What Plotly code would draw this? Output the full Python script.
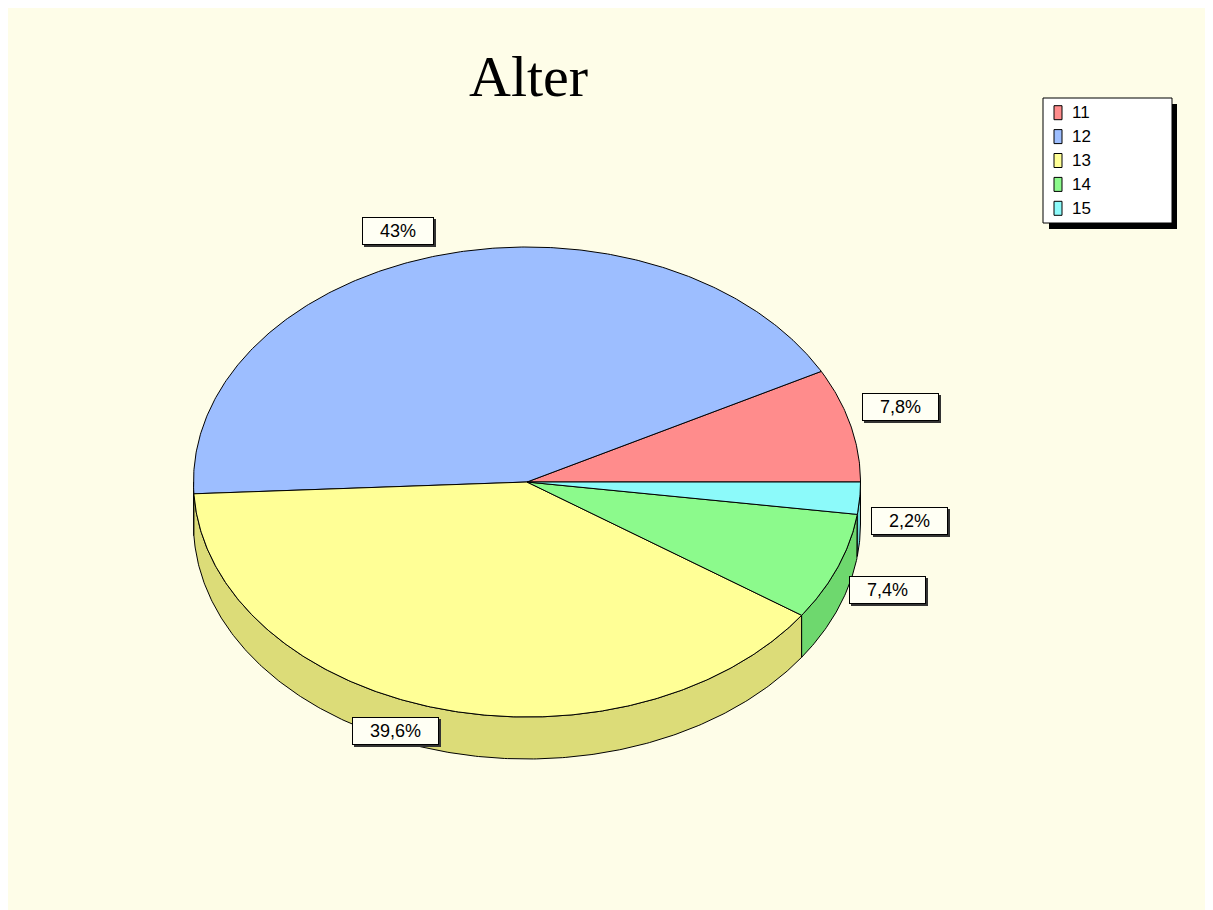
import math
import plotly.graph_objects as go

# ---- data ----
categories = ["11", "12", "13", "14", "15"]
shares = [7.8, 43.0, 39.6, 7.4, 2.2]
top_colors = ["#FF8C8C", "#9DBEFF", "#FFFF96", "#8CFA8C", "#8CFAFA"]
side_colors = ["#DC7070", "#829ED8", "#DCDC78", "#6ED86E", "#6ED8D8"]
title_text = "Alter"

# ---- geometry / style constants (in page pixels) ----
W, H = 1213, 910
OFF = 8  # page body margin
CX, CY = 527, 482
RX, RY = 333.5, 235
DEPTH = 42
BG = "#FEFDE8"
LABEL_FONT = "Liberation Sans, Arial, sans-serif"


def pt(t, dy=0.0):
    r = math.radians(t)
    return CX + RX * math.cos(r), CY - RY * math.sin(r) + dy


def arc(a, b, dy=0.0):
    n = max(2, int(math.ceil(abs(b - a) / 0.5)) + 1)
    return [pt(a + (b - a) * i / (n - 1), dy) for i in range(n)]


def fmt(v):
    s = f"{v:g}".replace(".", ",")
    return s + "%"


total = sum(shares)
bounds = []
start = 0.0
for v in shares:
    span = v / total * 360.0
    bounds.append((start, start + span))
    start += span

fig = go.Figure()

# side walls (front half only)
for cat, (a, b), col in zip(categories, bounds, side_colors):
    s, e = max(a, 180.0), min(b, 360.0)
    if s < e:
        top = arc(s, e)
        bot = arc(e, s, DEPTH)
        pts = top + bot + [top[0]]
        fig.add_trace(go.Scatter(
            x=[p[0] for p in pts], y=[p[1] for p in pts],
            mode="lines", fill="toself", fillcolor=col,
            line=dict(color="black", width=1),
            hoverinfo="skip", showlegend=False))

# top faces
for cat, v, (a, b), col in zip(categories, shares, bounds, top_colors):
    pts = [(CX, CY)] + arc(a, b) + [(CX, CY)]
    fig.add_trace(go.Scatter(
        x=[p[0] for p in pts], y=[p[1] for p in pts],
        mode="lines", fill="toself", fillcolor=col,
        line=dict(color="black", width=1),
        name=cat, text=fmt(v), hoverinfo="name+text", showlegend=False))

annotations = []
PAD = "\u2002\u00a0"
# data labels
for v, (a, b) in zip(shares, bounds):
    m = (a + b) / 2
    px, py = pt(m)
    c, s = math.cos(math.radians(m)), math.sin(math.radians(m))
    lx = px + (50 if c >= 0 else -40)
    ly = py + (-(16 + 9 * s) if s > 0 else 23)
    txt = PAD + fmt(v) + PAD
    annotations.append(dict(
        x=lx, y=ly, xref="x", yref="y", text=txt, showarrow=False,
        font=dict(family=LABEL_FONT, size=18, color="#333333"),
        bgcolor="#333333", bordercolor="#333333", borderwidth=1, borderpad=3,
        xshift=2, yshift=-2))
    annotations.append(dict(
        x=lx, y=ly, xref="x", yref="y", text=txt, showarrow=False,
        font=dict(family=LABEL_FONT, size=18, color="black"),
        bgcolor="#FFFFF4", bordercolor="black", borderwidth=1, borderpad=3))

# title
annotations.append(dict(
    x=528, y=76, xref="x", yref="y", text=title_text, showarrow=False,
    font=dict(family="Liberation Serif, Times New Roman, serif", size=58, color="black")))

shapes = []
# legend (manual, Excel style with shadow)
LX0, LY0, LX1, LY1 = 1043, 98, 1172, 223
shapes.append(dict(type="rect", xref="x", yref="y", x0=LX0 + 6, y0=LY0 + 6,
                   x1=LX1 + 5, y1=LY1 + 6, fillcolor="black", line=dict(width=0)))
shapes.append(dict(type="rect", xref="x", yref="y", x0=LX0, y0=LY0, x1=LX1, y1=LY1,
                   fillcolor="white", line=dict(color="black", width=1)))
for i, (cat, col) in enumerate(zip(categories, top_colors)):
    yc = 112.7 + i * 23.9
    shapes.append(dict(type="rect", xref="x", yref="y", x0=1054, x1=1062,
                       y0=yc - 7, y1=yc + 7, fillcolor=col,
                       line=dict(color="black", width=1)))
    annotations.append(dict(
        x=1070, y=yc, xref="x", yref="y", text=cat, showarrow=False,
        xanchor="left", yanchor="middle",
        font=dict(family=LABEL_FONT, size=17, color="black")))

fig.update_layout(
    width=W, height=H,
    margin=dict(l=0, r=0, t=0, b=0),
    paper_bgcolor=BG, plot_bgcolor="rgba(0,0,0,0)",
    xaxis=dict(range=[OFF, OFF + W], visible=False, fixedrange=True),
    yaxis=dict(range=[OFF + H, OFF], visible=False, fixedrange=True),
    shapes=shapes, annotations=annotations, showlegend=False,
)

fig.write_html("out.html")
